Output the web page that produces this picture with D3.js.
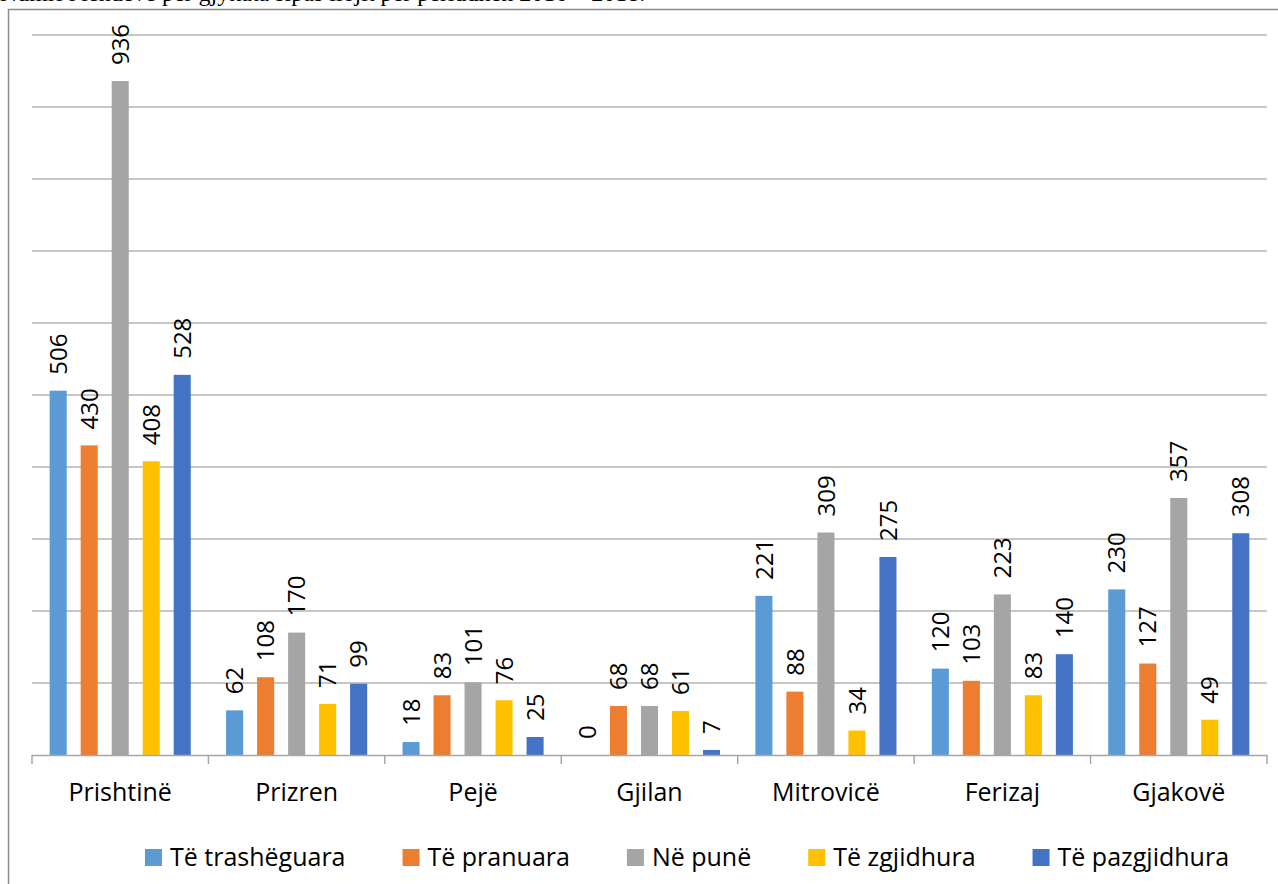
<!DOCTYPE html>
<html>
<head>
<meta charset="utf-8">
<script src="https://cdn.jsdelivr.net/npm/d3@7"></script>
<style>
  body { margin: 0; background: #fff; }
  text { font-family: "Open Sans", sans-serif; fill: #000; }
</style>
</head>
<body>
<div id="chart"></div>
<script>
var courts = ["Prishtinë", "Prizren", "Pejë", "Gjilan", "Mitrovicë", "Ferizaj", "Gjakovë"];
var seriesNames = ["Të trashëguara", "Të pranuara", "Në punë", "Të zgjidhura", "Të pazgjidhura"];
var seriesColors = ["#5B9BD5", "#ED7D31", "#A5A5A5", "#FFC000", "#4472C4"];

var trasheguara = [506, 62, 18, 0, 221, 120, 230];
var pranuara = [430, 108, 83, 68, 88, 103, 127];
var nePune = [936, 170, 101, 68, 309, 223, 357];
var zgjidhura = [408, 71, 76, 61, 34, 83, 49];
var pazgjidhura = [528, 99, 25, 7, 275, 140, 308];

var yTicks = [0, 100, 200, 300, 400, 500, 600, 700, 800, 900, 1000];

var allSeries = [trasheguara, pranuara, nePune, zgjidhura, pazgjidhura];

var width = 1278, height = 884;
var svg = d3.select("#chart").append("svg")
    .attr("width", width)
    .attr("height", height);

// caption line of the page above, mostly cut off by the top edge
svg.append("text")
    .attr("x", 0)
    .attr("y", 1)
    .style("font-family", "'Liberation Serif', serif")
    .style("font-size", "24px")
    .text("Numri i lëndëve për gjykata sipas llojit për periudhën 2016 – 2018.");

// chart frame
svg.append("path")
    .attr("d", "M8.5," + (height + 2) + "V9.5H" + (width + 2))
    .attr("fill", "none")
    .attr("stroke", "#8c8c8c")
    .attr("stroke-width", 1.5);

var x0 = d3.scaleBand()
    .domain(courts)
    .range([32, 1267]);

var x1 = d3.scaleBand()
    .domain(seriesNames)
    .range([0, x0.bandwidth()])
    .paddingInner(0.45)
    .paddingOuter(0.57);

var y = d3.scaleLinear()
    .domain([0, 1000])
    .range([755, 35]);

// gridlines
svg.append("g")
    .selectAll("line")
    .data(yTicks.slice(1))
    .enter()
    .append("line")
    .attr("x1", 32)
    .attr("x2", 1267)
    .attr("y1", function (d) { return y(d); })
    .attr("y2", function (d) { return y(d); })
    .attr("stroke", "#b3b3b3")
    .attr("stroke-width", 1.5);

// bars
var groups = svg.append("g")
    .selectAll("g")
    .data(courts)
    .enter()
    .append("g")
    .attr("transform", function (d) { return "translate(" + x0(d) + ",0)"; });

var cells = groups.selectAll("g")
    .data(function (c, ci) {
        return seriesNames.map(function (s, si) {
            return { series: s, value: allSeries[si][ci], color: seriesColors[si] };
        });
    })
    .enter()
    .append("g");

cells.append("rect")
    .attr("x", function (d) { return x1(d.series); })
    .attr("y", function (d) { return y(d.value); })
    .attr("width", x1.bandwidth())
    .attr("height", function (d) { return y(0) - y(d.value); })
    .attr("fill", function (d) { return d.color; });

cells.append("text")
    .attr("transform", function (d) {
        var cx = x1(d.series) + x1.bandwidth() / 2;
        return "translate(" + cx + "," + (y(d.value) - 16) + ") rotate(-90)";
    })
    .attr("dy", "0.36em")
    .style("font-size", "24px")
    .text(function (d) { return d.value; });

// category axis
var xAxis = svg.append("g");
xAxis.append("line")
    .attr("x1", 32).attr("x2", 1267)
    .attr("y1", 755.5).attr("y2", 755.5)
    .attr("stroke", "#a6a6a6")
    .attr("stroke-width", 1.5);

var tickXs = courts.map(function (c) { return x0(c); }).concat([x0.range()[1]]);
xAxis.selectAll("line.tick")
    .data(tickXs)
    .enter()
    .append("line")
    .attr("class", "tick")
    .attr("x1", function (d) { return d; })
    .attr("x2", function (d) { return d; })
    .attr("y1", 755)
    .attr("y2", 764)
    .attr("stroke", "#a6a6a6")
    .attr("stroke-width", 1.5);

xAxis.selectAll("text")
    .data(courts)
    .enter()
    .append("text")
    .attr("x", function (d) { return x0(d) + x0.bandwidth() / 2; })
    .attr("y", 801)
    .attr("text-anchor", "middle")
    .style("font-size", "25px")
    .text(function (d) { return d; });

// legend
var legend = svg.append("g");
var lx = 145;
seriesNames.forEach(function (s, i) {
    legend.append("rect")
        .attr("x", lx)
        .attr("y", 849)
        .attr("width", 17)
        .attr("height", 17)
        .attr("fill", seriesColors[i]);
    var t = legend.append("text")
        .attr("x", lx + 25)
        .attr("y", 866)
        .style("font-size", "25px")
        .text(s);
    lx = lx + 25 + t.node().getComputedTextLength() + 57;
});
</script>
</body>
</html>
